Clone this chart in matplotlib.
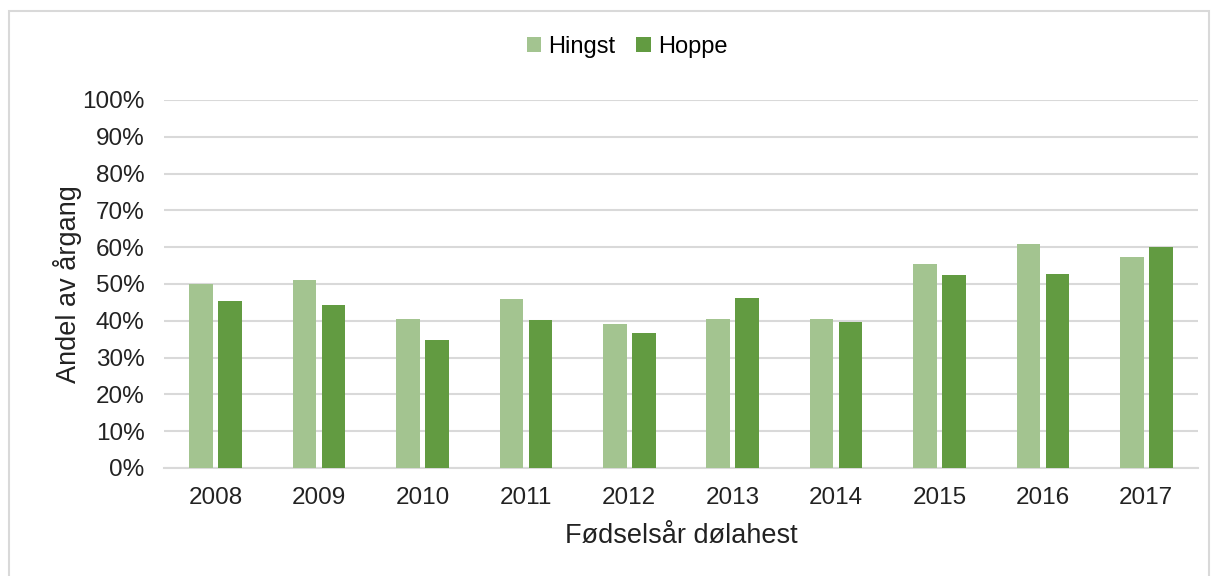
import matplotlib.pyplot as plt
import numpy as np
from matplotlib.patches import Rectangle
from matplotlib.ticker import PercentFormatter

plt.rcParams['font.family'] = ['Liberation Sans', 'DejaVu Sans']

years = ['2008', '2009', '2010', '2011', '2012', '2013', '2014', '2015', '2016', '2017']
hingst = [50.0, 51.0, 40.5, 46.0, 39.0, 40.5, 40.5, 55.4, 60.9, 57.4]
hoppe = [45.5, 44.3, 34.8, 40.2, 36.7, 46.1, 39.7, 52.4, 52.8, 60.0]

light = '#A3C490'
dark = '#629B41'

fig = plt.figure(figsize=(12.14, 5.76), dpi=100)
ax = fig.add_axes([164 / 1214, 1 - 468 / 576, (1198 - 164) / 1214, 368 / 576])

x = np.arange(len(years))
w = 0.227
ax.bar(x - 0.14, hingst, w, color=light, label='Hingst', zorder=3)
ax.bar(x + 0.14, hoppe, w, color=dark, label='Hoppe', zorder=3)

ax.set_xlim(-0.5, len(years) - 0.5)
ax.set_ylim(0, 100)
ax.set_yticks(range(0, 101, 10))
ax.yaxis.set_major_formatter(PercentFormatter(decimals=0))
ax.set_xticks(x)
ax.set_xticklabels(years)
ax.tick_params(axis='both', length=0, labelsize=17.5, colors='#222222')
ax.tick_params(axis='y', pad=14)
ax.tick_params(axis='x', pad=14)
ax.grid(axis='y', color='#D9D9D9', linewidth=1.5, zorder=0)
for s in ['top', 'right', 'left']:
    ax.spines[s].set_visible(False)
ax.spines['bottom'].set_color('#D9D9D9')
ax.spines['bottom'].set_linewidth(1.5)

ax.set_xlabel('Fødselsår dølahest', fontsize=19.5, color='#222222', labelpad=10)
ax.set_ylabel('Andel av årgang', fontsize=19.5, color='#222222', labelpad=0)

fig.legend(*ax.get_legend_handles_labels(), loc='center',
           bbox_to_anchor=(627 / 1214, 1 - 47 / 576), ncol=2, frameon=False,
           fontsize=17, handlelength=0.6, handleheight=0.6, handletextpad=0.3,
           columnspacing=0.9)

fig.patches.append(Rectangle((9 / 1214, -0.01), 1200 / 1214, 1 - 11 / 576 + 0.01,
                             transform=fig.transFigure, fill=False,
                             edgecolor='#D9D9D9', linewidth=1.5))

fig.savefig('out.png', dpi=100)
